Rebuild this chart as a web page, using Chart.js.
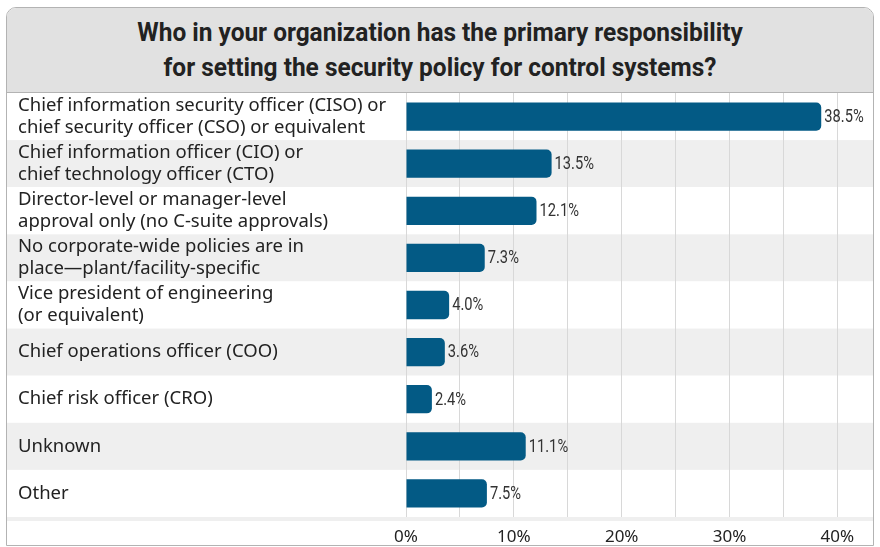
<!DOCTYPE html>
<html>
<head>
<meta charset="utf-8">
<script src="https://cdn.jsdelivr.net/npm/chart.js@4.4.0/dist/chart.umd.min.js"></script>
<style>
  html, body { margin: 0; background: #fff; }
  .panel {
    position: absolute; left: 6px; top: 7px; width: 866px; height: 537px;
    border: 1.5px solid #b3b3b3; border-radius: 10px 10px 0 0; overflow: hidden;
  }
  .title {
    height: 84px; background: #e1e1e1; border-bottom: 1.5px solid #b3b3b3;
    display: flex; align-items: center; justify-content: center;
  }
  .title span {
    display: inline-block; text-align: center; color: #222;
    font: bold 26px/35px "Roboto", sans-serif; transform: scaleX(0.94);
    white-space: nowrap;
  }
  .plot { position: relative; width: 866px; height: 451px; }
</style>
</head>
<body>
<div class="panel">
  <div class="title"><span>Who in your organization has the primary responsibility<br>for setting the security policy for control systems?</span></div>
  <div class="plot"><canvas id="chart"></canvas></div>
</div>
<script>
const categories = [
  ['Chief information security officer (CISO) or', 'chief security officer (CSO) or equivalent'],
  ['Chief information officer (CIO) or', 'chief technology officer (CTO)'],
  ['Director-level or manager-level', 'approval only (no C-suite approvals)'],
  ['No corporate-wide policies are in', 'place\u2014plant/facility-specific'],
  ['Vice president of engineering', '(or equivalent)'],
  'Chief operations officer (COO)',
  'Chief risk officer (CRO)',
  'Unknown',
  'Other'
];
const shares = [38.5, 13.5, 12.1, 7.3, 4.0, 3.6, 2.4, 11.1, 7.5];
const tickLabels = [0, 10, 20, 30, 40];

const BAR = '#035a85';
const BAND = '#efefef';

// alternating row stripes behind the grid, plus the strip above the axis labels
const rowBands = {
  id: 'rowBands',
  beforeDraw(chart) {
    const { ctx, chartArea, scales: { y } } = chart;
    const step = y.getPixelForValue(1) - y.getPixelForValue(0);
    ctx.save();
    categories.forEach((c, i) => {
      const mid = y.getPixelForValue(i);
      ctx.fillStyle = i % 2 ? BAND : '#ffffff';
      ctx.fillRect(0, mid - step / 2, chart.width, step);
    });
    ctx.fillStyle = BAND;
    ctx.fillRect(0, chartArea.bottom, chart.width, 4);
    ctx.restore();
  }
};

const valueLabels = {
  id: 'valueLabels',
  afterDatasetsDraw(chart) {
    const { ctx } = chart;
    const meta = chart.getDatasetMeta(0);
    ctx.save();
    ctx.fillStyle = '#333';
    ctx.font = '17.5px Roboto';
    ctx.textBaseline = 'middle';
    meta.data.forEach((bar, i) => {
      ctx.save();
      ctx.translate(bar.x + 3, bar.y + 1);
      ctx.scale(0.84, 1);
      ctx.fillText(shares[i].toFixed(1) + '%', 0, 0);
      ctx.restore();
    });
    ctx.restore();
  }
};

new Chart(document.getElementById('chart'), {
  type: 'bar',
  data: {
    labels: categories,
    datasets: [{
      data: shares,
      backgroundColor: BAR,
      borderRadius: 5,
      borderSkipped: 'start',
      barPercentage: 0.6,
      categoryPercentage: 1
    }]
  },
  options: {
    indexAxis: 'y',
    responsive: true,
    maintainAspectRatio: false,
    animation: false,
    layout: { padding: { left: 11, right: 0, top: 0, bottom: 0 } },
    plugins: {
      legend: { display: false },
      tooltip: { enabled: false }
    },
    scales: {
      x: {
        min: 0,
        max: 43.3,
        grid: { color: '#d8d8d8', lineWidth: 1, drawTicks: false },
        border: { display: false },
        ticks: {
          stepSize: 5,
          includeBounds: false,
          autoSkip: false,
          maxRotation: 0,
          padding: 10,
          color: '#222',
          font: { family: 'Noto Sans', size: 17 },
          callback: v => tickLabels.includes(v) ? v + '%' : ''
        },
        afterFit(scale) {
          scale.height = 27;
          scale.paddingLeft = 0;
          scale.paddingRight = 0;
        }
      },
      y: {
        grid: { display: false },
        border: { display: false },
        ticks: {
          autoSkip: false,
          crossAlign: 'far',
          padding: 0,
          color: '#222',
          font: { family: 'Noto Sans', size: 18.5, lineHeight: 1.2 }
        },
        afterFit(scale) {
          scale.width = 388;
          scale.paddingTop = 0;
          scale.paddingBottom = 0;
        }
      }
    }
  },
  plugins: [rowBands, valueLabels]
});
</script>
</body>
</html>
